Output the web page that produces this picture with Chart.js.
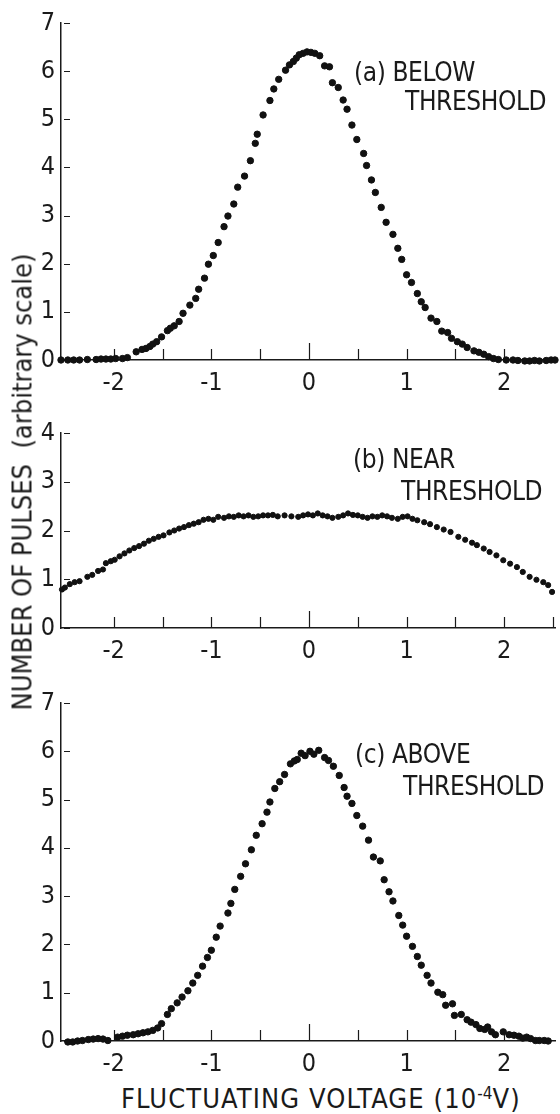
<!DOCTYPE html>
<html>
<head>
<meta charset="utf-8">
<title>Pulse height distributions</title>
<script src="https://cdn.jsdelivr.net/npm/chart.js@4.4.1/dist/chart.umd.min.js"></script>
<style>
  html, body { margin: 0; padding: 0; background: #fff; }
  #page {
    position: relative; width: 560px; height: 1114px; overflow: hidden;
    font-family: "Liberation Sans Narrow", "DejaVu Sans Condensed", "Liberation Sans", sans-serif;
    color: #1a1a1a;
  }
  .panel { position: absolute; left: 0; }
  .note { position: absolute; font-size: 26px; line-height: 1; white-space: nowrap; letter-spacing: -0.4px; }
  #ytitle {
    position: absolute; left: 22px; top: 482px; white-space: nowrap;
    font-size: 27px; line-height: 1; letter-spacing: 0;
    transform: translate(-50%, -50%) rotate(-90deg);
  }
  #xtitle {
    position: absolute; left: 121px; top: 1085px; white-space: nowrap;
    font-size: 27px; line-height: 1; letter-spacing: 1.1px;
  }
  #xtitle sup { font-size: 17px; vertical-align: 9px; letter-spacing: 0; }
</style>
</head>
<body>
<div id="page">
  <div class="panel" style="top:0px"><canvas id="chartA" width="560" height="400"></canvas></div>
  <div class="panel" style="top:400px"><canvas id="chartB" width="560" height="268"></canvas></div>
  <div class="panel" style="top:668px"><canvas id="chartC" width="560" height="413"></canvas></div>

  <div class="note" style="left:354px;top:59px">(a) BELOW</div>
  <div class="note" style="left:405px;top:88px">THRESHOLD</div>
  <div class="note" style="left:353px;top:446px">(b) NEAR</div>
  <div class="note" style="left:401px;top:478px">THRESHOLD</div>
  <div class="note" style="left:355px;top:741px">(c) ABOVE</div>
  <div class="note" style="left:403px;top:773px">THRESHOLD</div>

  <div id="ytitle">NUMBER OF PULSES &nbsp;(arbitrary scale)</div>
  <div id="xtitle">FLUCTUATING VOLTAGE (10<sup>-4</sup>V)</div>
</div>

<script>
// ---------- Axis data ----------
const X_MIN = -2.54;
const X_MAX = 2.52;
const xTickLabels = [-2, -1, 0, 1, 2];
const xTickMarks = [-2, -1.5, -1, -0.5, 0, 0.5, 1, 1.5, 2];
const xTickMarksB = [-2, -1.5, -1, -0.5, 0, 0.5, 1, 1.5, 2, 2.5];
const yTicksTall = [0, 1, 2, 3, 4, 5, 6, 7];
const yTicksShort = [0, 1, 2, 3, 4];

// ---------- (a) below threshold ----------
const belowX = [-2.54, -2.47, -2.41, -2.35, -2.27, -2.18, -2.13, -2.08, -2.03, -1.98,
  -1.91, -1.86, -1.77, -1.71, -1.67, -1.63, -1.60, -1.56, -1.51, -1.45,
  -1.42, -1.38, -1.33, -1.29, -1.22, -1.16, -1.13, -1.07, -1.03, -0.98,
  -0.93, -0.87, -0.83, -0.77, -0.73, -0.66, -0.60, -0.55, -0.53, -0.47,
  -0.40, -0.36, -0.31, -0.24, -0.20, -0.16, -0.13, -0.10, -0.06,
  -0.02, 0.02, 0.06, 0.11, 0.16, 0.21, 0.24, 0.30, 0.35, 0.39,
  0.44, 0.49, 0.56, 0.59, 0.64, 0.68, 0.74, 0.79, 0.86, 0.91,
  0.95, 1.00, 1.05, 1.11, 1.15, 1.19, 1.25, 1.31, 1.36, 1.42,
  1.46, 1.52, 1.57, 1.62, 1.69, 1.74, 1.79, 1.84, 1.89, 1.94,
  2.02, 2.09, 2.14, 2.21, 2.26, 2.31, 2.36, 2.43, 2.48, 2.52];
const belowY = [0, 0, 0, 0, 0.01, 0.01, 0.02, 0.02, 0.02, 0.03,
  0.03, 0.05, 0.17, 0.22, 0.24, 0.28, 0.33, 0.38, 0.48, 0.61,
  0.66, 0.71, 0.80, 0.97, 1.14, 1.28, 1.47, 1.70, 1.99, 2.17,
  2.44, 2.77, 2.99, 3.24, 3.59, 3.82, 4.14, 4.50, 4.69, 5.09,
  5.39, 5.63, 5.83, 6.02, 6.13, 6.20, 6.27, 6.34, 6.37,
  6.40, 6.39, 6.37, 6.32, 6.11, 6.09, 5.76, 5.66, 5.40, 5.21,
  4.88, 4.58, 4.29, 4.04, 3.74, 3.48, 3.17, 2.86, 2.61, 2.32,
  2.09, 1.77, 1.61, 1.38, 1.21, 1.09, 0.87, 0.80, 0.60, 0.57,
  0.45, 0.38, 0.33, 0.26, 0.19, 0.16, 0.12, 0.07, 0.03, 0.01,
  0, 0, -0.01, -0.02, -0.02, -0.01, -0.02, -0.01, 0, 0];

// ---------- (b) near threshold ----------
const nearX = [-2.53, -2.50, -2.45, -2.40, -2.35, -2.27, -2.22, -2.16, -2.11, -2.08,
  -2.03, -1.99, -1.94, -1.89, -1.84, -1.79, -1.74, -1.69, -1.64, -1.59,
  -1.54, -1.49, -1.43, -1.38, -1.33, -1.28, -1.23, -1.18, -1.13, -1.08,
  -1.03, -0.98, -0.93, -0.87, -0.82, -0.77, -0.72, -0.67, -0.62, -0.57,
  -0.52, -0.47, -0.42, -0.37, -0.32, -0.25, -0.18, -0.11, -0.06, -0.01,
  0.04, 0.09, 0.14, 0.19, 0.24, 0.30, 0.35, 0.40, 0.45, 0.50,
  0.55, 0.60, 0.65, 0.70, 0.75, 0.80, 0.85, 0.91, 0.96, 1.01,
  1.06, 1.11, 1.18, 1.24, 1.31, 1.38, 1.45, 1.53, 1.60, 1.67,
  1.72, 1.79, 1.85, 1.92, 1.99, 2.06, 2.13, 2.19, 2.26, 2.33,
  2.40, 2.45, 2.49];
const nearY = [0.79, 0.83, 0.90, 0.94, 0.96, 1.05, 1.09, 1.17, 1.20, 1.33,
  1.37, 1.40, 1.47, 1.53, 1.59, 1.64, 1.68, 1.73, 1.79, 1.83,
  1.87, 1.90, 1.96, 2.00, 2.04, 2.07, 2.11, 2.14, 2.17, 2.22,
  2.24, 2.22, 2.28, 2.26, 2.29, 2.28, 2.31, 2.29, 2.31, 2.28,
  2.29, 2.31, 2.31, 2.32, 2.29, 2.31, 2.29, 2.28, 2.31, 2.33,
  2.31, 2.35, 2.31, 2.29, 2.26, 2.28, 2.31, 2.35, 2.32, 2.31,
  2.28, 2.26, 2.29, 2.28, 2.31, 2.29, 2.26, 2.24, 2.28, 2.29,
  2.24, 2.21, 2.17, 2.13, 2.07, 2.02, 1.97, 1.87, 1.81, 1.75,
  1.70, 1.63, 1.56, 1.49, 1.39, 1.32, 1.25, 1.15, 1.05, 0.99,
  0.94, 0.88, 0.74];

// ---------- (c) above threshold ----------
const aboveX = [-2.47, -2.42, -2.37, -2.32, -2.26, -2.21, -2.16, -2.11, -2.06,
  -1.96, -1.91, -1.86, -1.80, -1.75, -1.70, -1.65, -1.60, -1.55, -1.51,
  -1.45, -1.41, -1.35, -1.30, -1.24, -1.19, -1.14, -1.09, -1.04, -1.00,
  -0.95, -0.91, -0.83, -0.80, -0.76, -0.70, -0.65, -0.59, -0.54, -0.48,
  -0.43, -0.40, -0.35,
  -0.30, -0.25, -0.19, -0.15, -0.12, -0.08, -0.04, 0.01, 0.05, 0.10,
  0.16, 0.20, 0.25, 0.31, 0.36, 0.39, 0.44, 0.49, 0.55, 0.61,
  0.66, 0.73, 0.77, 0.82, 0.86, 0.92, 0.96, 1.00, 1.06, 1.11,
  1.15, 1.21, 1.25, 1.32, 1.37, 1.40, 1.47, 1.49, 1.56, 1.62,
  1.66, 1.71, 1.75, 1.80, 1.83, 1.87, 1.91, 1.99, 2.05, 2.10,
  2.15, 2.19, 2.23, 2.27, 2.32, 2.36, 2.41, 2.45];
const aboveY = [-0.02, -0.02, 0, 0.01, 0.03, 0.04, 0.05, 0.04, 0.01,
  0.08, 0.10, 0.12, 0.13, 0.15, 0.17, 0.19, 0.22, 0.27, 0.36,
  0.55, 0.67, 0.79, 0.91, 1.04, 1.20, 1.36, 1.55, 1.73, 1.88,
  2.15, 2.38, 2.65, 2.85, 3.14, 3.41, 3.67, 3.96, 4.26, 4.50,
  4.74, 4.95, 5.23,
  5.37, 5.52, 5.74, 5.80, 5.83, 5.96, 5.91, 6.00, 5.94, 6.02,
  5.87, 5.81, 5.69, 5.50, 5.25, 5.07, 4.92, 4.67, 4.45, 4.16,
  3.81, 3.73, 3.34, 3.09, 2.90, 2.60, 2.40, 2.17, 1.96, 1.75,
  1.57, 1.36, 1.20, 1.01, 0.96, 0.74, 0.77, 0.53, 0.55, 0.44,
  0.39, 0.34, 0.26, 0.24, 0.29, 0.19, 0.13, 0.19, 0.13, 0.12,
  0.10, 0.06, 0.08, 0.05, 0.01, 0.01, 0.01, 0];

// ---------- Style ----------
const INK = '#1a1a1a';
const FONT = '"Liberation Sans Narrow", "DejaVu Sans Condensed", "Liberation Sans", sans-serif';
Chart.defaults.font.family = FONT;
Chart.defaults.color = INK;

// short tick marks drawn inward from both axes
const innerTicks = {
  id: 'innerTicks',
  beforeDatasetsDraw(chart, args, opts) {
    const { ctx, chartArea } = chart;
    const x = chart.scales.x, y = chart.scales.y;
    ctx.save();
    ctx.strokeStyle = INK;
    ctx.lineWidth = 1.2;
    ctx.beginPath();
    opts.xMarks.forEach(v => {
      const px = Math.round(x.getPixelForValue(v)) + 0.5;
      const len = v === 0 ? opts.zeroLen : opts.xLen;
      ctx.moveTo(px, chartArea.bottom);
      ctx.lineTo(px, chartArea.bottom - len);
    });
    opts.yMarks.forEach(v => {
      const py = Math.round(y.getPixelForValue(v)) + 0.5;
      ctx.moveTo(chartArea.left + 3, py);
      ctx.lineTo(chartArea.left + 3 + opts.yLen, py);
    });
    ctx.stroke();
    ctx.restore();
  }
};

function makePanel(id, xs, ys, yTicks, padTop, radius, xMarks) {
  const points = xs.map((v, i) => ({ x: v, y: ys[i] }));
  return new Chart(document.getElementById(id), {
    type: 'scatter',
    data: {
      datasets: [{
        data: points,
        pointRadius: radius,
        pointBackgroundColor: '#111',
        pointBorderColor: '#111',
        pointBorderWidth: 1,
        clip: false
      }]
    },
    options: {
      responsive: false,
      animation: false,
      events: [],
      layout: { padding: { top: padTop, left: 0, right: 2, bottom: 0 } },
      plugins: {
        legend: { display: false },
        tooltip: { enabled: false },
        innerTicks: { xMarks: xMarks, yMarks: yTicks, xLen: 11, zeroLen: 17, yLen: 6 }
      },
      scales: {
        x: {
          type: 'linear',
          min: X_MIN,
          max: X_MAX,
          afterBuildTicks: axis => { axis.ticks = xTickLabels.map(v => ({ value: v })); },
          afterFit: axis => { axis.height = 40; },
          grid: { display: false, drawTicks: false },
          border: { display: true, color: INK, width: 1.5 },
          ticks: { padding: 8, font: { size: 25 }, color: INK, maxRotation: 0, autoSkip: false }
        },
        y: {
          type: 'linear',
          min: yTicks[0],
          max: yTicks[yTicks.length - 1],
          afterBuildTicks: axis => { axis.ticks = yTicks.map(v => ({ value: v })); },
          afterFit: axis => { axis.width = 61; },
          grid: { display: false, drawTicks: false },
          border: { display: true, color: INK, width: 1.5 },
          ticks: { padding: 6, font: { size: 25 }, color: INK }
        }
      }
    },
    plugins: [innerTicks]
  });
}

makePanel('chartA', belowX, belowY, yTicksTall, 23, 3.2, xTickMarks);
makePanel('chartB', nearX, nearY, yTicksShort, 33, 2.6, xTickMarksB);
makePanel('chartC', aboveX, aboveY, yTicksTall, 35, 3.2, xTickMarks);
</script>
</body>
</html>
